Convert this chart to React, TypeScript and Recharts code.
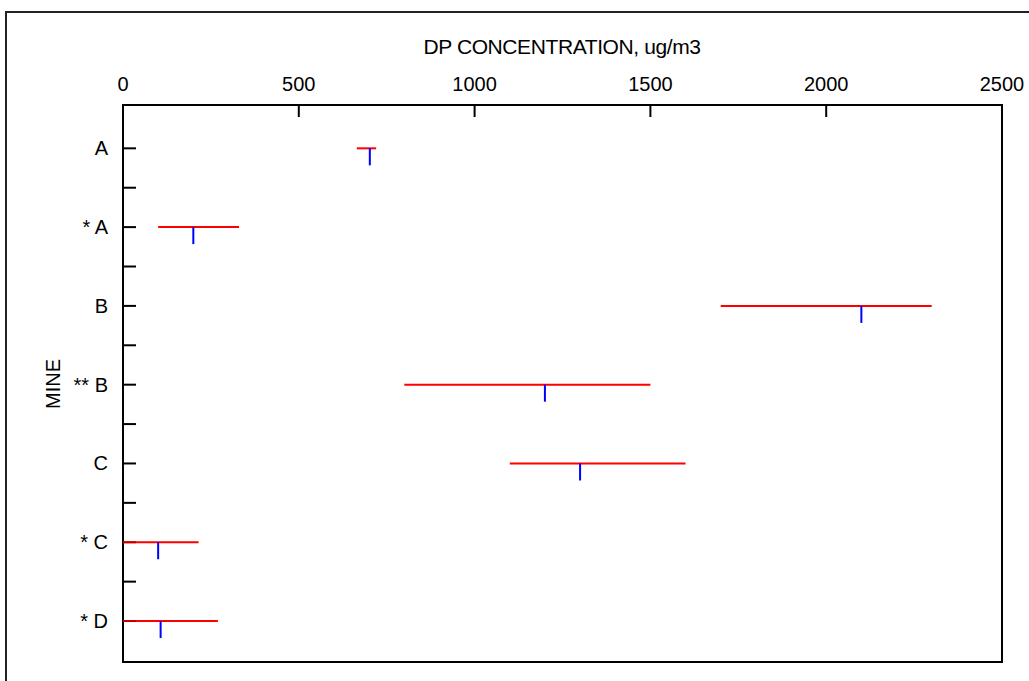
import React from "react";
import {
  ComposedChart,
  Scatter,
  XAxis,
  YAxis,
  ReferenceLine,
  ReferenceArea,
} from "recharts";

// mines, top to bottom
const mines = ["A", "* A", "B", "** B", "C", "* C", "* D"];
// range of DP concentration (ug/m3)
const lowValues = [665, 100, 1700, 800, 1100, 0, 0];
const highValues = [720, 330, 2300, 1500, 1600, 215, 270];
// blue marker (median)
const midValues = [702, 200, 2100, 1200, 1300, 100, 107];

const xTicks = [0, 500, 1000, 1500, 2000, 2500];
const yTicks = [0, 0.5, 1, 1.5, 2, 2.5, 3, 3.5, 4, 4.5, 5, 5.5, 6];

const Y_MIN = -0.55;
const Y_MAX = 6.52;
const FONT = "'Liberation Sans', Arial, sans-serif";

const midData = mines.map((m, i) => ({ mine: m, idx: i, x: midValues[i] }));

const TopTick = (props: any) => {
  const { x, y, payload } = props;
  const v = payload.value;
  return (
    <g>
      {v !== 0 && v !== 2500 && (
        <line x1={x} y1={y} x2={x} y2={y + 12} stroke="#000" strokeWidth={2} />
      )}
      <text x={x} y={y - 14} textAnchor="middle" fontSize={20} fontFamily={FONT} fill="#000">
        {v}
      </text>
    </g>
  );
};

const LeftTick = (props: any) => {
  const { x, y, payload } = props;
  const v = payload.value;
  const isMajor = Number.isInteger(v);
  // where a red range starts at zero it covers the tick (drawn dark red there)
  const covered = isMajor && lowValues[v] === 0;
  return (
    <g>
      <line
        x1={x}
        y1={y}
        x2={x + 13}
        y2={y}
        stroke={covered ? "#c00000" : "#000"}
        strokeWidth={2}
      />
      {isMajor && (
        <text x={x - 15} y={y + 7} textAnchor="end" fontSize={20} fontFamily={FONT} fill="#000">
          {mines[v]}
        </text>
      )}
    </g>
  );
};

const MidMark = (props: any) => {
  const { cx, cy } = props;
  return <line x1={cx} y1={cy} x2={cx} y2={cy + 17} stroke="#0000ff" strokeWidth={2} />;
};

export default function App() {
  return (
    <div
      style={{
        position: "fixed",
        left: 0,
        top: 0,
        width: 1029,
        height: 681,
        overflow: "hidden",
        background: "#fff",
        fontFamily: FONT,
      }}
    >
      <div
        style={{
          position: "absolute",
          left: 5,
          top: 11,
          width: 1100,
          height: 800,
          border: "2px solid #222",
          boxSizing: "border-box",
        }}
      />
      <div
        style={{
          position: "absolute",
          left: 362,
          width: 400,
          top: 34,
          textAlign: "center",
          fontSize: 21,
          letterSpacing: -0.4,
          lineHeight: "26px",
          color: "#000",
        }}
      >
        DP CONCENTRATION, ug/m3
      </div>
      <div
        style={{
          position: "absolute",
          left: 53,
          top: 384,
          transform: "translate(-50%, -50%) rotate(-90deg)",
          fontSize: 20,
          lineHeight: "24px",
          color: "#000",
          whiteSpace: "nowrap",
        }}
      >
        MINE
      </div>
      <div style={{ position: "absolute", left: 0, top: 0 }}>
        <ComposedChart
          width={1029}
          height={681}
          data={midData}
          margin={{ top: 65, right: 27, bottom: 19, left: 63 }}
        >
          <XAxis
            type="number"
            dataKey="x"
            orientation="top"
            domain={[0, 2500]}
            ticks={xTicks}
            height={40}
            axisLine={false}
            tickLine={false}
            tickSize={0}
            tickMargin={0}
            tick={<TopTick />}
            interval={0}
          />
          <YAxis
            type="number"
            dataKey="idx"
            domain={[Y_MIN, Y_MAX]}
            reversed
            ticks={yTicks}
            width={60}
            axisLine={false}
            tickLine={false}
            tickSize={0}
            tickMargin={0}
            tick={<LeftTick />}
            interval={0}
          />
          <ReferenceArea
            x1={0}
            x2={2500}
            y1={Y_MIN}
            y2={Y_MAX}
            fill="none"
            stroke="#000"
            strokeWidth={2}
            fillOpacity={0}
          />
          {mines.map((m, i) => (
            <ReferenceLine
              key={m}
              segment={[
                { x: lowValues[i], y: i },
                { x: highValues[i], y: i },
              ]}
              stroke="#ff0000"
              strokeWidth={2}
            />
          ))}
          <Scatter dataKey="idx" shape={<MidMark />} isAnimationActive={false} />
        </ComposedChart>
      </div>
    </div>
  );
}
